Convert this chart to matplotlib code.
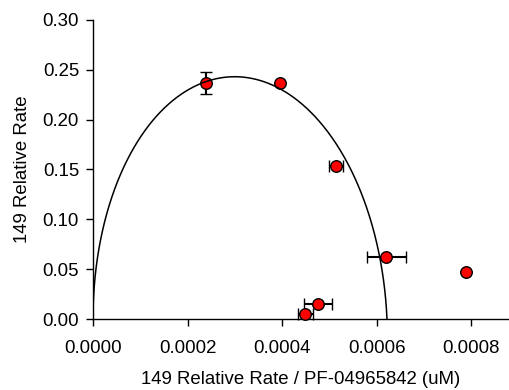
import numpy as np
import matplotlib.pyplot as plt

plt.rcParams['font.family'] = ['Liberation Sans', 'DejaVu Sans']

# measured points: rate / [PF-04965842] (x) vs relative rate (y)
x_vals = [0.000239, 0.000396, 0.000514, 0.000620, 0.000476, 0.000449, 0.000789]
y_vals = [0.2368, 0.2368, 0.1538, 0.0622, 0.0150, 0.0050, 0.0472]
x_err = [0.0, 0.0, 0.0000141, 0.0000413, 0.0000296, 0.0000160, 0.0]
y_err = [0.0107, 0.0, 0.0, 0.0, 0.0, 0.0, 0.0]

# substrate inhibition fit: v = Vmax*S / (Km + S + S^2/Ki)
Vmax = 6.76
Km = 10870.0
Ki = 60.5

S = np.logspace(-2, 8, 4000)
v_fit = Vmax * S / (Km + S + S**2 / Ki)
x_fit = v_fit / S

fig = plt.figure(figsize=(5.09, 3.90), dpi=100)
ax = fig.add_axes([93/509, 71/390, 416/509, 299/390])

ax.errorbar(x_vals, y_vals, xerr=x_err, yerr=y_err, fmt='o', color='black',
            mfc='red', mec='black', mew=1.0, ms=8.3, ecolor='black',
            elinewidth=1.5, capsize=4, capthick=1.5, zorder=3, clip_on=False)
ax.plot(np.r_[x_fit, 0.0], np.r_[v_fit, 0.0], color='black', lw=1.1, zorder=4)

ax.set_xlim(0, 0.00088)
ax.set_ylim(0, 0.30)
ax.set_xticks([0, 0.0002, 0.0004, 0.0006, 0.0008])
ax.set_xticklabels(['0.0000', '0.0002', '0.0004', '0.0006', '0.0008'])
ax.set_yticks(np.arange(0, 0.301, 0.05))
ax.set_yticklabels(['%.2f' % t for t in np.arange(0, 0.301, 0.05)])

for side in ['top', 'right']:
    ax.spines[side].set_visible(False)
for side in ['left', 'bottom']:
    ax.spines[side].set_linewidth(1.0)
ax.tick_params(direction='out', length=5, width=1.0, labelsize=13.4, pad=5)
ax.tick_params(axis='x', pad=10)

ax.set_xlabel('149 Relative Rate / PF-04965842 (uM)', fontsize=13.4, labelpad=10.5)
ax.set_ylabel('149 Relative Rate', fontsize=13.4, labelpad=8.5)

fig.savefig('out.png', dpi=100)
